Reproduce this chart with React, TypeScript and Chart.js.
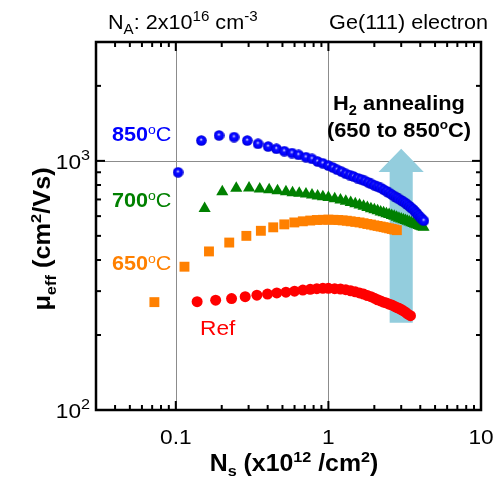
import React, { useEffect, useRef } from 'react';
import { Chart, registerables } from 'chart.js';

Chart.register(...registerables);

const FONT = '"Liberation Sans", Arial, Helvetica, sans-serif';

// ---- Data (Ns in 1e12 /cm2, mobility in cm2/Vs) ----
const ns850 = [0.1035, 0.147, 0.192, 0.241, 0.294, 0.346, 0.403, 0.457, 0.514, 0.577, 0.638, 0.713, 0.781, 0.85, 0.92, 1.0, 1.07, 1.14, 1.22, 1.3, 1.38, 1.46, 1.55, 1.64, 1.73, 1.82, 1.91, 2.0, 2.1, 2.2, 2.3, 2.4, 2.5, 2.6, 2.7, 2.8, 2.9, 3.0, 3.1, 3.2, 3.3, 3.4, 3.5, 3.6, 3.7, 3.8, 3.9, 4.0, 4.1, 4.22];
const mu850 = [900, 1207, 1265, 1246, 1207, 1171, 1142, 1118, 1094, 1075, 1057, 1035, 1019, 994, 978, 957, 940, 922, 905, 888, 877, 866, 853, 843, 832, 820, 808, 798, 788, 779, 767, 756, 744, 733, 722, 712, 703, 694, 686, 677, 667, 657, 647, 638, 626, 615, 604, 594, 584, 575];

const ns700 = [0.1545, 0.2017, 0.249, 0.302, 0.355, 0.409, 0.464, 0.527, 0.582, 0.644, 0.713, 0.781, 0.85, 0.92, 1.0, 1.1, 1.2, 1.3, 1.4, 1.5, 1.6, 1.7, 1.8, 1.9, 2.0, 2.1, 2.2, 2.3, 2.4, 2.5, 2.6, 2.7, 2.8, 2.9, 3.0, 3.1, 3.2, 3.3, 3.4, 3.5, 3.6, 3.7, 3.8, 3.9, 4.0, 4.1, 4.2];
const mu700 = [644, 752, 776, 778, 771, 766, 759, 752, 745, 741, 737, 730, 723, 717, 712, 704, 696, 688, 680, 672, 665, 657, 650, 643, 636, 630, 624, 619, 614, 609, 604, 599, 594, 589, 584, 580, 576, 572, 568, 565, 561, 557, 554, 550, 547, 544, 541];

const ns650 = [0.0724, 0.114, 0.165, 0.224, 0.29, 0.361, 0.435, 0.514, 0.598, 0.68, 0.76, 0.84, 0.92, 1.0, 1.08, 1.16, 1.24, 1.32, 1.4, 1.5, 1.6, 1.7, 1.8, 1.9, 2.0, 2.1, 2.2, 2.3, 2.4, 2.5, 2.6, 2.7, 2.81];
const mu650 = [271, 376, 433, 470, 500, 524, 541, 556, 566, 572, 576, 579, 580, 581, 580, 579, 577, 575, 572, 569, 566, 562, 558, 555, 551, 548, 545, 542, 539, 536, 533, 530, 527];

const nsRef = [0.138, 0.1825, 0.232, 0.285, 0.34, 0.399, 0.459, 0.527, 0.6, 0.68, 0.76, 0.84, 0.92, 1.0, 1.1, 1.2, 1.3, 1.4, 1.5, 1.6, 1.7, 1.8, 1.9, 2.0, 2.1, 2.2, 2.3, 2.4, 2.5, 2.6, 2.7, 2.8, 2.9, 3.0, 3.1, 3.2, 3.3, 3.45];
const muRef = [272, 276, 280, 285, 289, 292, 295, 297, 300, 303, 305, 307, 308, 308, 307, 306, 304, 301, 298, 295, 292, 288, 285, 281, 277, 274, 271, 269, 266, 264, 261, 258, 256, 253, 250, 247, 243, 239];

// ---- Axes ----
const xMin = 0.03, xMax = 10;
const yMin = 100, yMax = 3000;
const xMajorTicks = [0.1, 1, 10];
const xTickLabels = ['0.1', '1', '10'];
const xMinorTicks = [0.04, 0.05, 0.06, 0.07, 0.08, 0.09, 0.2, 0.3, 0.4, 0.5, 0.6, 0.7, 0.8, 0.9, 2, 3, 4, 5, 6, 7, 8, 9];
const yMajorTicks = [100, 1000];
const yTickExponents = ['2', '3'];
const yMinorTicks = [200, 300, 400, 500, 600, 700, 800, 900, 2000];
const xGrid = [0.1, 1];
const yGrid = [1000];

// annealing arrow (data coords)
const arrowCenterX = 3.0;
const arrowShaftX = [2.52, 3.57];
const arrowHeadX = [2.13, 4.22];
const arrowY = [224, 903, 1118]; // bottom, head base, tip

const BLUE = '#0000FF';
const GREEN = '#008000';
const ORANGE = '#FF8000';
const RED = '#FF0000';
const ARROW = '#93CDDD';

type Seg = { t: string; s: number; b?: boolean; dy?: number };

function rich(ctx: CanvasRenderingContext2D, segs: Seg[], x: number, y: number, align: 'left' | 'center' | 'right', color: string, sx = 1.08) {
  ctx.save();
  ctx.fillStyle = color;
  ctx.textBaseline = 'alphabetic';
  ctx.textAlign = 'left';
  const widths = segs.map((g) => {
    ctx.font = `${g.b ? 'bold ' : ''}${g.s}px ${FONT}`;
    return ctx.measureText(g.t).width;
  });
  const total = widths.reduce((a, b) => a + b, 0) * sx;
  const x0 = align === 'left' ? x : align === 'center' ? x - total / 2 : x - total;
  ctx.translate(x0, y);
  ctx.scale(sx, 1);
  let cx = 0;
  segs.forEach((g, i) => {
    ctx.font = `${g.b ? 'bold ' : ''}${g.s}px ${FONT}`;
    ctx.fillText(g.t, cx, g.dy || 0);
    cx += widths[i];
  });
  ctx.restore();
}

function makeSphere(d: number): HTMLCanvasElement {
  const c = document.createElement('canvas');
  c.width = d;
  c.height = d;
  const g = c.getContext('2d')!;
  const r = d / 2;
  const grad = g.createRadialGradient(r * 0.95, r * 0.8, 0, r, r, r);
  grad.addColorStop(0, '#f0f0ff');
  grad.addColorStop(0.12, '#a0a0ff');
  grad.addColorStop(0.3, '#1010ff');
  grad.addColorStop(0.7, '#0000ff');
  grad.addColorStop(1, '#0000c0');
  g.fillStyle = grad;
  g.beginPath();
  g.arc(r, r, r - 0.2, 0, Math.PI * 2);
  g.fill();
  return c;
}

const decor = {
  id: 'decor',
  beforeDatasetsDraw(chart: any) {
    const { ctx, chartArea: a, scales } = chart;
    const x = scales.x, y = scales.y;
    ctx.save();
    ctx.strokeStyle = '#8c8c8c';
    ctx.lineWidth = 1;
    xGrid.forEach((v) => {
      const px = Math.round(x.getPixelForValue(v)) + 0.5;
      ctx.beginPath(); ctx.moveTo(px, a.top); ctx.lineTo(px, a.bottom); ctx.stroke();
    });
    yGrid.forEach((v) => {
      const py = Math.round(y.getPixelForValue(v)) + 0.5;
      ctx.beginPath(); ctx.moveTo(a.left, py); ctx.lineTo(a.right, py); ctx.stroke();
    });
    // arrow
    const sl = x.getPixelForValue(arrowShaftX[0]);
    const sr = x.getPixelForValue(arrowShaftX[1]);
    const hl = x.getPixelForValue(arrowHeadX[0]);
    const hr = x.getPixelForValue(arrowHeadX[1]);
    const xc = x.getPixelForValue(arrowCenterX);
    const yb = y.getPixelForValue(arrowY[0]);
    const yh = y.getPixelForValue(arrowY[1]);
    const yt = y.getPixelForValue(arrowY[2]);
    ctx.fillStyle = ARROW;
    ctx.beginPath();
    ctx.moveTo(sl, yb);
    ctx.lineTo(sl, yh);
    ctx.lineTo(hl, yh);
    ctx.lineTo(xc, yt);
    ctx.lineTo(hr, yh);
    ctx.lineTo(sr, yh);
    ctx.lineTo(sr, yb);
    ctx.closePath();
    ctx.fill();
    ctx.restore();
  },
  afterDatasetsDraw(chart: any) {
    const { ctx, chartArea: a, scales } = chart;
    const x = scales.x, y = scales.y;
    ctx.save();
    // ticks
    ctx.strokeStyle = '#000';
    ctx.lineWidth = 2;
    const vt = (px: number, len: number) => {
      ctx.beginPath(); ctx.moveTo(px, a.bottom); ctx.lineTo(px, a.bottom - len); ctx.stroke();
      ctx.beginPath(); ctx.moveTo(px, a.top); ctx.lineTo(px, a.top + len); ctx.stroke();
    };
    const ht = (py: number, len: number) => {
      ctx.beginPath(); ctx.moveTo(a.left, py); ctx.lineTo(a.left + len, py); ctx.stroke();
      ctx.beginPath(); ctx.moveTo(a.right, py); ctx.lineTo(a.right - len, py); ctx.stroke();
    };
    xMinorTicks.forEach((v) => vt(x.getPixelForValue(v), 5));
    xMajorTicks.forEach((v) => vt(x.getPixelForValue(v), 9));
    yMinorTicks.forEach((v) => ht(y.getPixelForValue(v), 5));
    yMajorTicks.forEach((v) => ht(y.getPixelForValue(v), 9));
    // box
    ctx.lineWidth = 2.5;
    ctx.strokeRect(a.left, a.top, a.right - a.left, a.bottom - a.top);
    ctx.restore();

    // tick labels
    xMajorTicks.forEach((v, i) => {
      rich(ctx, [{ t: xTickLabels[i], s: 21 }], x.getPixelForValue(v), a.bottom + 34, 'center', '#000');
    });
    yMajorTicks.forEach((v, i) => {
      rich(ctx, [{ t: '10', s: 21 }, { t: yTickExponents[i], s: 15, dy: -9 }], a.left - 6, y.getPixelForValue(v) + 8, 'right', '#000');
    });

    // axis titles
    rich(ctx, [
      { t: 'N', s: 23, b: true },
      { t: 's', s: 15, b: true, dy: 5 },
      { t: ' (x10', s: 23, b: true },
      { t: '12', s: 15, b: true, dy: -9 },
      { t: ' /cm', s: 23, b: true },
      { t: '2', s: 15, b: true, dy: -9 },
      { t: ')', s: 23, b: true },
    ], 294, 471, 'center', '#000');

    ctx.save();
    ctx.translate(50, 239);
    ctx.rotate(-Math.PI / 2);
    rich(ctx, [
      { t: 'μ', s: 23, b: true },
      { t: 'eff', s: 15, b: true, dy: 6 },
      { t: ' (cm', s: 23, b: true },
      { t: '2', s: 15, b: true, dy: -9 },
      { t: '/Vs)', s: 23, b: true },
    ], 0, 0, 'center', '#000', 1.1);
    ctx.restore();

    // top annotations
    rich(ctx, [
      { t: 'N', s: 20 },
      { t: 'A', s: 14, dy: 5 },
      { t: ': 2x10', s: 20 },
      { t: '16', s: 14, dy: -8 },
      { t: ' cm', s: 20 },
      { t: '-3', s: 14, dy: -8 },
    ], 108, 29, 'left', '#000');
    rich(ctx, [{ t: 'Ge(111) electron', s: 20 }], 488, 29, 'right', '#000');

    // series labels
    const temp = (n: string, baseline: number, color: string) =>
      rich(ctx, [{ t: n, s: 20, b: true }, { t: 'o', s: 13, dy: -7 }, { t: 'C', s: 20 }], 112, baseline, 'left', color);
    temp('850', 141, BLUE);
    temp('700', 207, GREEN);
    temp('650', 270, ORANGE);
    rich(ctx, [{ t: 'Ref', s: 21 }], 200, 335, 'left', RED);

    rich(ctx, [
      { t: 'H', s: 21, b: true },
      { t: '2', s: 14, b: true, dy: 5 },
      { t: ' annealing', s: 21, b: true },
    ], 399, 110, 'center', '#000', 1.04);
    rich(ctx, [
      { t: '(650 to 850', s: 21, b: true },
      { t: 'o', s: 13, b: true, dy: -8 },
      { t: 'C)', s: 21, b: true },
    ], 399, 137, 'center', '#000', 1.04);
  },
};

export default function App() {
  const ref = useRef<HTMLCanvasElement | null>(null);
  useEffect(() => {
    if (!ref.current) return;
    const sphere = makeSphere(11);
    const pts = (xs: number[], ys: number[]) => xs.map((v, i) => ({ x: v, y: ys[i] }));
    const chart = new Chart(ref.current, {
      type: 'scatter',
      data: {
        datasets: [
          { label: '850C', data: pts(ns850, mu850), pointStyle: sphere as any, radius: 5.5, backgroundColor: BLUE, borderColor: BLUE, borderWidth: 0 },
          { label: '700C', data: pts(ns700, mu700), pointStyle: 'triangle', radius: 7, backgroundColor: GREEN, borderColor: GREEN, borderWidth: 0 },
          { label: '650C', data: pts(ns650, mu650), pointStyle: 'rect', radius: 7, backgroundColor: ORANGE, borderColor: ORANGE, borderWidth: 0 },
          { label: 'Ref', data: pts(nsRef, muRef), pointStyle: 'circle', radius: 5.5, backgroundColor: RED, borderColor: RED, borderWidth: 0 },
        ],
      },
      options: {
        responsive: false,
        animation: false,
        devicePixelRatio: 1,
        events: [],
        layout: { padding: { left: 96, right: 16, top: 42, bottom: 71 } },
        plugins: { legend: { display: false }, tooltip: { enabled: false } },
        scales: {
          x: { type: 'logarithmic', min: xMin, max: xMax, display: false },
          y: { type: 'logarithmic', min: yMin, max: yMax, display: false },
        },
      },
      plugins: [decor],
    });
    return () => chart.destroy();
  }, []);
  return (
    <div style={{ position: 'absolute', left: 0, top: 0, width: 497, height: 481, background: '#fff' }}>
      <canvas ref={ref} width={497} height={481} style={{ display: 'block', width: 497, height: 481 }} />
    </div>
  );
}
